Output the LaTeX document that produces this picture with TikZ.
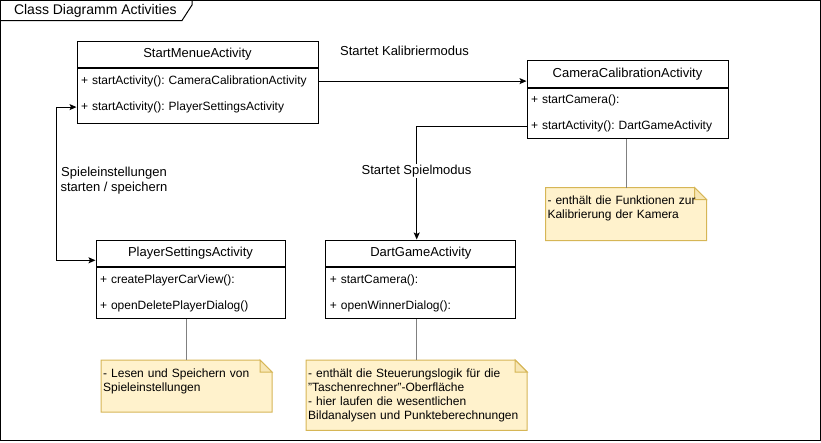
\documentclass[tikz,border=0pt]{standalone}
\usepackage{fontspec}
\setmainfont{Liberation Sans}
\usepackage[dvipsnames]{xcolor}
\usetikzlibrary{arrows.meta}
\usetikzlibrary{positioning}
\definecolor{notefill}{HTML}{FFF2CC}
\definecolor{noteline}{HTML}{D6B656}
\definecolor{linkgray}{HTML}{808080}
\tikzset{
txt/.style = {inner sep=0pt, font=\fontsize{12}{14}\selectfont\frenchspacing},
bigtxt/.style = {inner sep=0pt, font=\fontsize{13}{15}\selectfont\frenchspacing},
clshead/.style = {draw, bigtxt, minimum height=26.6pt},
clsbody/.style = {draw, inner sep=0pt},
clsrow/.style = {txt, inner xsep=4pt, minimum height=25pt,
                 text width=#1, align=left},
notebox/.style = {inner sep=0pt},
notetext/.style = {txt, anchor=north west, text width=#1, align=left},
arr/.style = {-{Stealth[length=7pt, width=6pt, inset=1.5pt]}},
biarr/.style = {{Stealth[length=7pt, width=6pt, inset=1.5pt]}-{Stealth[length=7pt, width=6pt, inset=1.5pt]}},
notelink/.style = {draw=linkgray}
}

\begin{document}
\begin{tikzpicture}[x=1pt, y=-1pt, line width=1pt]
    \useasboundingbox (0,0) rectangle (821,442);

    % frame
    \draw (0.5,0.5) rectangle (820.5,440.5);
    \draw (0.5,20.5) -- (182,20.5) -- (192,5) -- (192,0.5);
    \node[txt, anchor=west, font=\fontsize{14}{16}\selectfont] (frametitle) at (13.5,11) {Class Diagramm Activities};

    % classes
    \node[clshead, minimum width=241pt] (smhead) at (197.5,54.3) {StartMenueActivity};
    \node[clsbody, minimum width=241pt, minimum height=54.6pt, below=0pt of smhead] (smbody) {};
    \node[clsrow=233pt, below=0pt of smbody.north] (smrow1) {+ startActivity(): CameraCalibrationActivity};
    \node[clsrow=233pt, below=0pt of smrow1] (smrow2) {+ startActivity(): PlayerSettingsActivity};

    \node[clshead, minimum width=201pt] (cchead) at (627.5,74) {CameraCalibrationActivity};
    \node[clsbody, minimum width=201pt, minimum height=50.4pt, below=0pt of cchead] (ccbody) {};
    \node[clsrow=193pt, below=0pt of ccbody.north] (ccrow1) {+ startCamera():};
    \node[clsrow=193pt, below=0pt of ccrow1] (ccrow2) {+ startActivity(): DartGameActivity};

    \node[clshead, minimum width=189pt] (pshead) at (190.5,253.3) {PlayerSettingsActivity};
    \node[clsbody, minimum width=189pt, minimum height=51.3pt, below=0pt of pshead] (psbody) {};
    \node[clsrow=181pt, below=0pt of psbody.north] (psrow1) {+ createPlayerCarView():};
    \node[clsrow=181pt, below=0pt of psrow1] (psrow2) {+ openDeletePlayerDialog()};

    \node[clshead, minimum width=190pt] (dghead) at (420.9,253.3) {DartGameActivity};
    \node[clsbody, minimum width=190pt, minimum height=51.3pt, below=0pt of dghead] (dgbody) {};
    \node[clsrow=182pt, below=0pt of dgbody.north] (dgrow1) {+ startCamera():};
    \node[clsrow=182pt, below=0pt of dgrow1] (dgrow2) {+ openWinnerDialog():};

    % notes
    \node[notebox, minimum width=160pt, minimum height=52pt] (ccnote) at (626,214) {};
    \node[notebox, minimum width=170pt, minimum height=51pt] (psnote) at (186.7,386.2) {};
    \node[notebox, minimum width=220pt, minimum height=69.3pt] (dgnote) at (416.7,395.3) {};
    \foreach \n in {ccnote,psnote,dgnote} {
        \draw[fill=notefill, draw=noteline] (\n.south west) -- (\n.north west) -- ([xshift=-12pt]\n.north east)
            -- ([yshift=-12pt]\n.north east) -- (\n.south east) -- cycle;
        \draw[fill=notefill!80!noteline, draw=noteline] ([xshift=-12pt]\n.north east)
            |- ([yshift=-12pt]\n.north east) -- cycle;
    }
    \node[notetext=157pt] (ccnotetxt) at ([shift={(1.5pt,-8pt)}]ccnote.north west)
        {- enthält die Funktionen zur\\Kalibrierung der Kamera};
    \node[notetext=167pt] (psnotetxt) at ([shift={(1.5pt,-8pt)}]psnote.north west)
        {- Lesen und Speichern von\\Spieleinstellungen};
    \node[notetext=217pt] (dgnotetxt) at ([shift={(1.5pt,-8pt)}]dgnote.north west)
        {- enthält die Steuerungslogik für die\\"Taschenrechner"-Oberfläche\\- hier laufen die wesentlichen\\Bildanalysen und Punkteberechnungen};

    \draw[notelink] (ccnote.north) -- (ccnote.north |- ccbody.south);
    \draw[notelink] (psnote.north) -- (psnote.north |- psbody.south);
    \draw[notelink] (dgnote.north) -- (dgnote.north |- dgbody.south);

    % links
    \coordinate (loopleft) at (56.7,180);
    \draw[arr] (smrow1.east) -- (smrow1.east -| cchead.west);
    \draw[arr] (ccrow2.west) -| ([xshift=-4.2pt]dghead.north);
    \draw[biarr] ([yshift=-7pt]pshead.west) -| (loopleft) |- (smrow2.west);

    \node[bigtxt] (kaliblabel) at (404.5,51) {Startet Kalibriermodus};
    \node[bigtxt, fill=white, inner sep=1pt] (spiellabel) at (416.5,171) {Startet Spielmodus};
    \node[bigtxt, align=center, font=\fontsize{13}{14.7}\selectfont] (settingslabel) at (114,180.5)
        {Spieleinstellungen\\starten / speichern};
\end{tikzpicture}
\end{document}
